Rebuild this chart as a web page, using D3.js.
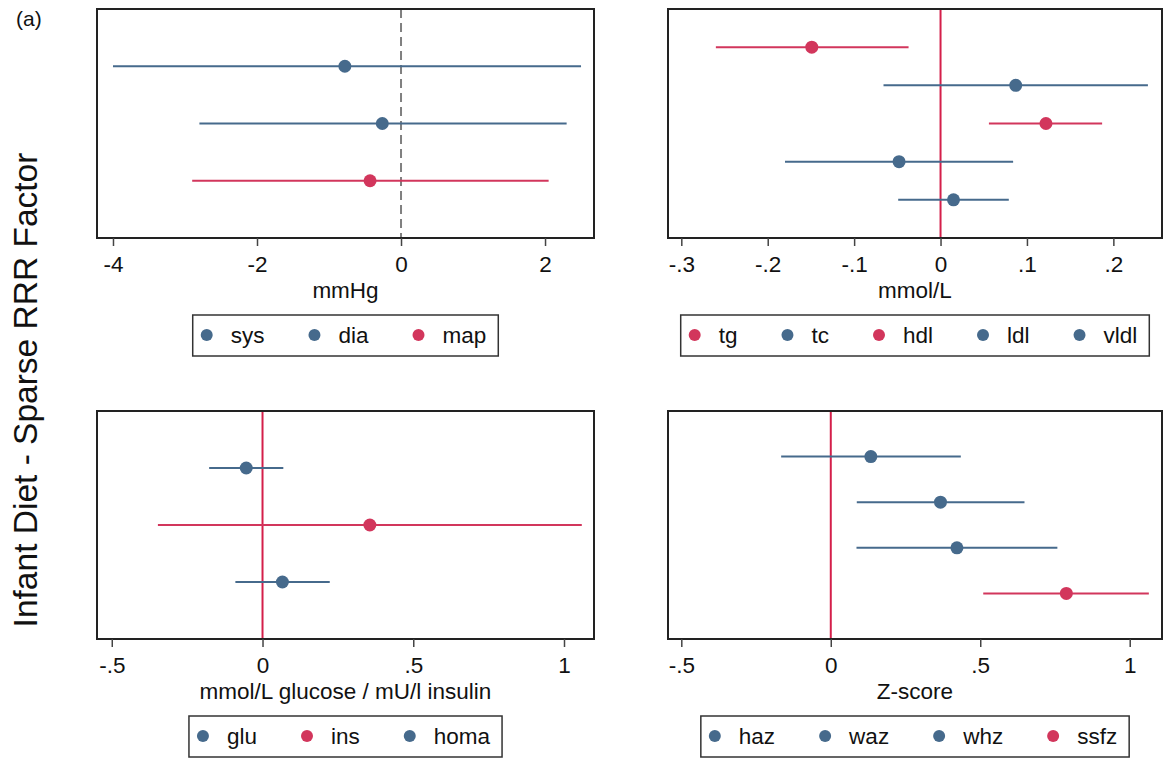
<!DOCTYPE html>
<html>
<head>
<meta charset="utf-8">
<script src="https://cdn.jsdelivr.net/npm/d3@7"></script>
<style>
  body { margin: 0; background: #fff; }
  svg { font-family: "Liberation Sans", Arial, sans-serif; }
</style>
</head>
<body>
<div id="chart"></div>
<script>
// blood pressure
const bpNames = ["sys", "dia", "map"];
const bpEst = [-0.78, -0.26, -0.43];
const bpLo = [-4.0, -2.8, -2.9];
const bpHi = [2.5, 2.3, 2.05];
const bpRed = [0, 0, 1];
const bpTicks = [-4, -2, 0, 2];

// lipids
const lipNames = ["tg", "tc", "hdl", "ldl", "vldl"];
const lipEst = [-0.149, 0.087, 0.122, -0.048, 0.015];
const lipLo = [-0.26, -0.066, 0.056, -0.18, -0.049];
const lipHi = [-0.037, 0.24, 0.187, 0.084, 0.079];
const lipRed = [1, 0, 1, 0, 0];
const lipTicks = [-0.3, -0.2, -0.1, 0, 0.1, 0.2];

// glucose / insulin
const gluNames = ["glu", "ins", "homa"];
const gluEst = [-0.054, 0.356, 0.066];
const gluLo = [-0.177, -0.347, -0.09];
const gluHi = [0.069, 1.059, 0.223];
const gluRed = [0, 1, 0];
const gluTicks = [-0.5, 0, 0.5, 1];

// anthropometry
const zNames = ["haz", "waz", "whz", "ssfz"];
const zEst = [0.134, 0.367, 0.422, 0.788];
const zLo = [-0.166, 0.087, 0.086, 0.51];
const zHi = [0.435, 0.648, 0.758, 1.064];
const zRed = [0, 0, 0, 1];
const zTicks = [-0.5, 0, 0.5, 1];

const blue = "#466a8c";
const red = "#d2365c";
const zeroRed = "#d41f4a";
const fs = 22.5;

const fmt = v => {
    if (v === 0) return "0";
    let s = String(+v.toFixed(2));
    return s.replace(/^0\./, ".").replace(/^-0\./, "-.");
};

const svg = d3.select("#chart").append("svg")
    .attr("width", 1169).attr("height", 759);

svg.append("text").attr("x", 16).attr("y", 26)
    .attr("font-size", 21).attr("fill", "#111").text("(a)");

svg.append("text")
    .attr("transform", "translate(37,390) rotate(-90)")
    .attr("text-anchor", "middle")
    .attr("font-size", 33.5)
    .attr("fill", "#111")
    .text("Infant Diet - Sparse RRR Factor");

function panel(p) {
    const x = d3.scaleLinear().domain(p.domain).range([p.left, p.right]);
    const n = p.names.length;
    const y = d3.scaleLinear().domain([0, n + 1]).range([p.top, p.bottom]);
    const g = svg.append("g");

    // zero line
    const zl = g.append("line")
        .attr("x1", x(0)).attr("x2", x(0))
        .attr("y1", p.top).attr("y2", p.bottom);
    if (p.dashed) {
        zl.attr("stroke", "#808080").attr("stroke-width", 2).attr("stroke-dasharray", "9,5");
    } else {
        zl.attr("stroke", zeroRed).attr("stroke-width", 2);
    }

    p.names.forEach((nm, i) => {
        const c = p.red[i] ? red : blue;
        g.append("line")
            .attr("x1", x(p.lo[i])).attr("x2", x(p.hi[i]))
            .attr("y1", y(i + 1)).attr("y2", y(i + 1))
            .attr("stroke", c).attr("stroke-width", 2);
        g.append("circle")
            .attr("cx", x(p.est[i])).attr("cy", y(i + 1)).attr("r", 6.5)
            .attr("fill", c);
    });

    // frame
    g.append("rect")
        .attr("x", p.left).attr("y", p.top)
        .attr("width", p.right - p.left).attr("height", p.bottom - p.top)
        .attr("fill", "none").attr("stroke", "#222").attr("stroke-width", 2);

    const ax = g.append("g")
        .attr("transform", "translate(0," + p.bottom + ")")
        .call(d3.axisBottom(x).tickValues(p.ticks).tickFormat(fmt).tickSize(8).tickPadding(10));
    ax.select(".domain").remove();
    ax.selectAll(".tick line").attr("stroke", "#444").attr("stroke-width", 1.5);
    ax.selectAll("text").attr("font-size", fs).attr("fill", "#111")
        .attr("font-family", "Liberation Sans, Arial, sans-serif");

    const cx = (p.left + p.right) / 2;
    g.append("text").attr("x", cx).attr("y", p.bottom + 60)
        .attr("text-anchor", "middle").attr("font-size", fs).attr("fill", "#111")
        .text(p.title);

    // legend
    const lg = g.append("g");
    let pos = 14;
    p.names.forEach((nm, i) => {
        lg.append("circle").attr("cx", pos).attr("cy", 0).attr("r", 6)
            .attr("fill", p.red[i] ? red : blue);
        const t = lg.append("text").attr("x", pos + 24).attr("y", 8)
            .attr("font-size", fs).attr("fill", "#111").text(nm);
        const w = t.node().getComputedTextLength();
        pos = pos + 24 + w + (i < n - 1 ? 50 : 12);
    });
    const boxW = pos;
    const bx = cx - boxW / 2;
    lg.attr("transform", "translate(" + bx + "," + (p.bottom + 97) + ")");
    lg.insert("rect", ":first-child")
        .attr("x", 0).attr("y", -20).attr("width", boxW).attr("height", 41)
        .attr("fill", "#fff").attr("stroke", "#333").attr("stroke-width", 1.5);
}

panel({ names: bpNames, est: bpEst, lo: bpLo, hi: bpHi, red: bpRed, ticks: bpTicks,
    domain: [-4.222, 2.68], left: 97, right: 594, top: 9, bottom: 238,
    dashed: true, title: "mmHg" });
panel({ names: lipNames, est: lipEst, lo: lipLo, hi: lipHi, red: lipRed, ticks: lipTicks,
    domain: [-0.3154, 0.2563], left: 668, right: 1162, top: 9, bottom: 238,
    dashed: false, title: "mmol/L" });
panel({ names: gluNames, est: gluEst, lo: gluLo, hi: gluHi, red: gluRed, ticks: gluTicks,
    domain: [-0.549, 1.0995], left: 97, right: 594, top: 411, bottom: 639,
    dashed: false, title: "mmol/L glucose / mU/l insulin" });
panel({ names: zNames, est: zEst, lo: zLo, hi: zHi, red: zRed, ticks: zTicks,
    domain: [-0.5445, 1.108], left: 668, right: 1162, top: 411, bottom: 639,
    dashed: false, title: "Z-score" });
</script>
</body>
</html>
